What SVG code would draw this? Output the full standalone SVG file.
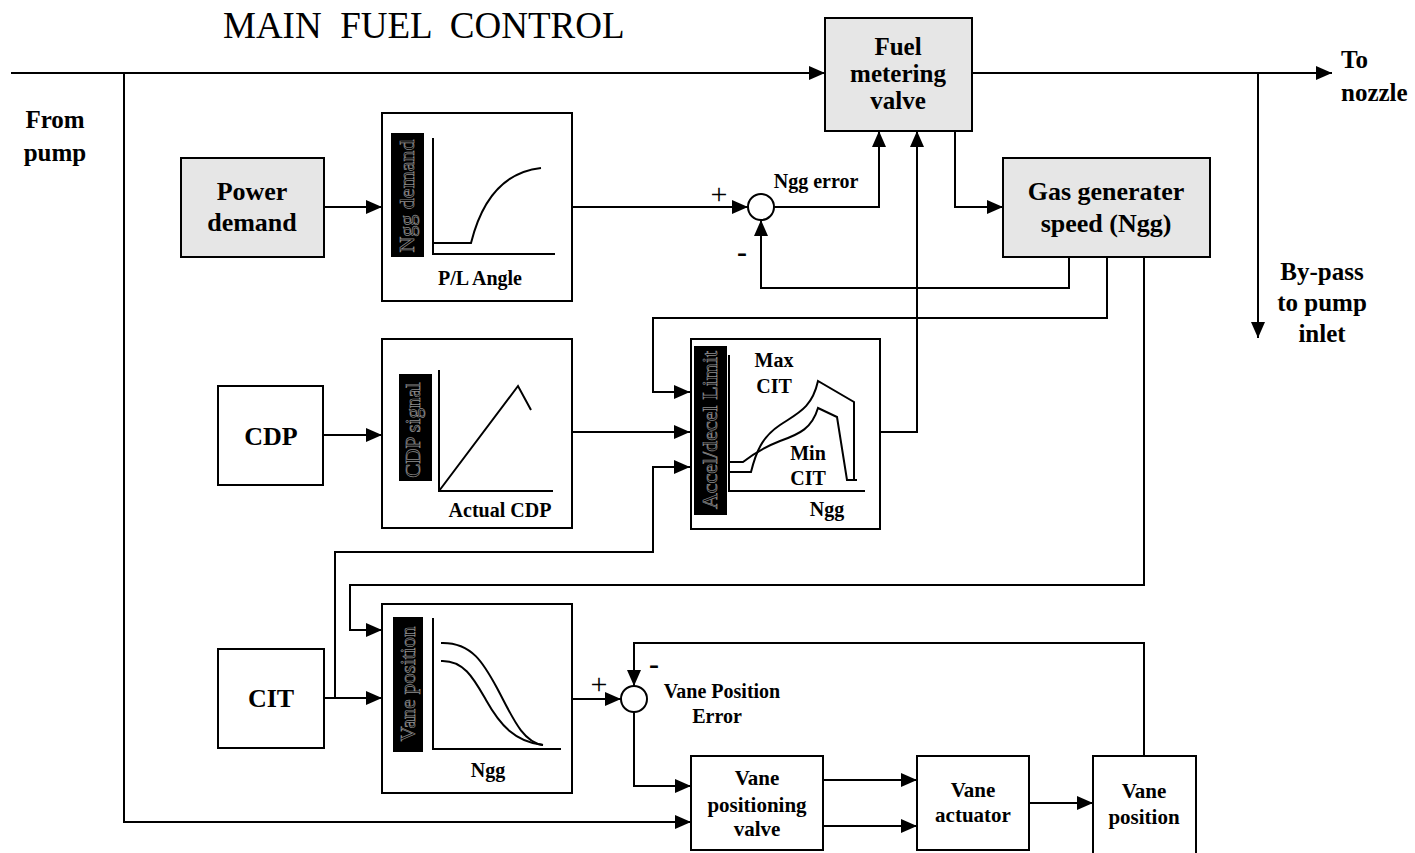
<svg xmlns="http://www.w3.org/2000/svg" width="1415" height="853" viewBox="0 0 1415 853">
<style>
.box{fill:#fff;stroke:#000;stroke-width:2}
.gbox{fill:#e6e6e6;stroke:#000;stroke-width:2}
.ln{fill:none;stroke:#000;stroke-width:2}
.arr{fill:none;stroke:#000;stroke-width:2;marker-end:url(#ah)}
.crv{fill:none;stroke:#000;stroke-width:2}
.big{font-family:"Liberation Serif",serif;font-weight:bold;font-size:26px;text-anchor:middle}
.side{font-family:"Liberation Serif",serif;font-weight:bold;font-size:25px}
.mid{font-family:"Liberation Serif",serif;font-weight:bold;font-size:21px;text-anchor:middle}
.lab{font-family:"Liberation Serif",serif;font-weight:bold;font-size:20px;text-anchor:middle}
.rot{font-family:"Liberation Serif",serif;font-size:22px;text-anchor:middle;fill:#000;stroke:#8c8c8c;stroke-width:0.7}
.blk{fill:#000}
.sign{font-family:"Liberation Serif",serif;font-size:30px;text-anchor:middle}
</style>
<defs>
<marker id="ah" markerWidth="16" markerHeight="14" refX="16" refY="7" orient="auto" markerUnits="userSpaceOnUse">
<path d="M0,0 L16,7 L0,14 z" fill="#000"/>
</marker>
</defs>
<rect width="1415" height="853" fill="#fff"/>
<text x="223" y="38" font-family="'Liberation Serif',serif" font-size="37" xml:space="preserve">MAIN  FUEL  CONTROL</text>

<g id="connectors">
<path class="arr" d="M11,73 H825"/>
<path class="arr" d="M124,73 V822 H691"/>
<path class="arr" d="M972,73 H1332"/>
<path class="arr" d="M1258,73 V338"/>
<path class="arr" d="M955,131 V207 H1003"/>
<path class="arr" d="M324,207 H382"/>
<path class="arr" d="M572,207 H748"/>
<path class="arr" d="M774,207 H879 V131"/>
<path class="arr" d="M1069,257 V288 H761 V220"/>
<path class="arr" d="M1107,257 V318 H653 V392 H690"/>
<path class="arr" d="M1144,257 V585 H350 V630 H382"/>
<path class="arr" d="M323,435 H382"/>
<path class="arr" d="M572,432 H690"/>
<path class="arr" d="M880,432 H917 V131"/>
<path class="arr" d="M324,698 H382"/>
<path class="arr" d="M335,698 V552 H653 V467 H690"/>
<path class="arr" d="M572,699 H621"/>
<path class="arr" d="M634,712 V786 H691"/>
<path class="arr" d="M1144,756 V643 H634 V686"/>
<path class="arr" d="M823,780 H917"/>
<path class="arr" d="M823,826 H917"/>
<path class="arr" d="M1029,803 H1093"/>
</g>

<g id="from-pump">
<text class="side" x="55" y="128" text-anchor="middle">From</text>
<text class="side" x="55" y="161" text-anchor="middle">pump</text>
</g>
<g id="to-nozzle">
<text class="side" x="1341" y="68">To</text>
<text class="side" x="1341" y="101">nozzle</text>
</g>
<g id="bypass">
<text class="side" x="1322" y="280" text-anchor="middle">By-pass</text>
<text class="side" x="1322" y="311" text-anchor="middle">to pump</text>
<text class="side" x="1322" y="342" text-anchor="middle">inlet</text>
</g>

<g id="fuel-metering-valve">
<rect class="gbox" x="825" y="18" width="147" height="113"/>
<text class="big" style="font-size:25px" x="898" y="55">Fuel</text>
<text class="big" style="font-size:25px" x="898" y="82">metering</text>
<text class="big" style="font-size:25px" x="898" y="109">valve</text>
</g>

<g id="gas-generator">
<rect class="gbox" x="1003" y="158" width="207" height="99"/>
<text class="big" x="1106" y="200">Gas generater</text>
<text class="big" x="1106" y="232">speed (Ngg)</text>
</g>

<g id="power-demand">
<rect class="gbox" x="181" y="158" width="143" height="99"/>
<text class="big" x="252" y="200">Power</text>
<text class="big" x="252" y="231">demand</text>
</g>

<g id="ngg-demand-chart">
<rect class="box" x="382" y="113" width="190" height="188"/>
<rect class="blk" x="391" y="133" width="33" height="124"/>
<text class="rot" transform="translate(414,196) rotate(-90)">Ngg demand</text>
<path class="crv" d="M433,138 V254 H555"/>
<path class="crv" d="M433,243 H471 C478,215 495,173 541,168"/>
<text class="lab" x="480" y="285">P/L Angle</text>
</g>

<g id="sum-ngg">
<circle cx="761" cy="207" r="13" fill="#fff" stroke="#000" stroke-width="2"/>
<text class="sign" x="719" y="204">+</text>
<text class="sign" x="742" y="262" font-weight="bold">-</text>
<text class="lab" x="816" y="188">Ngg error</text>
</g>

<g id="cdp">
<rect class="box" x="218" y="386" width="105" height="99"/>
<text class="big" x="271" y="445">CDP</text>
</g>

<g id="cdp-chart">
<rect class="box" x="382" y="339" width="190" height="189"/>
<rect class="blk" x="399" y="374" width="33" height="107"/>
<text class="rot" style="font-size:21px" transform="translate(420,430) rotate(-90)">CDP signal</text>
<path class="crv" d="M439,370 V491 H553"/>
<path class="crv" d="M439,491 L518,386 L531,410"/>
<text class="lab" x="500" y="517">Actual CDP</text>
</g>

<g id="accel-chart">
<rect class="box" x="691" y="339" width="189" height="190"/>
<rect class="blk" x="694" y="346" width="33" height="169"/>
<text class="rot" transform="translate(717,430) rotate(-90)">Accel/decel Limit</text>
<path class="crv" d="M729,355 V491 H865"/>
<path class="crv" d="M729,472 H751 C756,452 762,437 780,425 C798,413 812,408 818,381 L854,402 V480"/>
<path class="crv" d="M729,462 H743 C752,455 762,448 780,441 C800,434 812,428 818,408 L837,417 L847,480 H857"/>
<text class="lab" x="774" y="367">Max</text>
<text class="lab" x="774" y="393">CIT</text>
<text class="lab" x="808" y="460">Min</text>
<text class="lab" x="808" y="485">CIT</text>
<text class="lab" x="827" y="516">Ngg</text>
</g>

<g id="cit">
<rect class="box" x="218" y="649" width="106" height="99"/>
<text class="big" x="271" y="707">CIT</text>
</g>

<g id="vane-chart">
<rect class="box" x="382" y="604" width="190" height="189"/>
<rect class="blk" x="393" y="617" width="30" height="135"/>
<text class="rot" style="font-size:21px" transform="translate(415,684) rotate(-90)">Vane position</text>
<path class="crv" d="M433,618 V749 H561"/>
<path class="crv" d="M441,643 C472,642 484,664 497,688 C512,716 522,742 543,745"/>
<path class="crv" d="M441,661 C464,660 474,679 486,700 C500,725 515,742 543,745"/>
<text class="lab" x="488" y="777">Ngg</text>
</g>

<g id="sum-vane">
<circle cx="634" cy="699" r="13" fill="#fff" stroke="#000" stroke-width="2"/>
<text class="sign" x="599" y="694">+</text>
<text class="sign" x="654" y="674" font-weight="bold">-</text>
<text class="lab" x="722" y="698">Vane Position</text>
<text class="lab" x="717" y="723">Error</text>
</g>

<g id="vane-positioning-valve">
<rect class="box" x="691" y="756" width="132" height="94"/>
<text class="mid" x="757" y="785">Vane</text>
<text class="mid" x="757" y="812">positioning</text>
<text class="mid" x="757" y="836">valve</text>
</g>

<g id="vane-actuator">
<rect class="box" x="917" y="756" width="112" height="94"/>
<text class="mid" x="973" y="797">Vane</text>
<text class="mid" x="973" y="822">actuator</text>
</g>

<g id="vane-position">
<rect class="box" x="1093" y="756" width="103" height="104"/>
<text class="mid" x="1144" y="798">Vane</text>
<text class="mid" x="1144" y="824">position</text>
</g>
</svg>
